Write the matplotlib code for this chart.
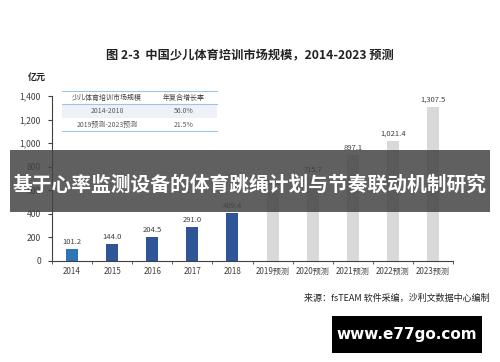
import matplotlib
matplotlib.use('Agg')
from matplotlib import pyplot as plt
from matplotlib.patches import Rectangle

plt.rcParams['font.family'] = ['Noto Sans CJK SC', 'DejaVu Sans']

# data
years = ['2014', '2015', '2016', '2017', '2018',
         '2019预测', '2020预测', '2021预测', '2022预测', '2023预测']
values = [101.2, 144.0, 204.5, 291.0, 409.4, 600.0, 715.7, 897.1, 1021.4, 1307.5]
bar_colors = ['#2e75b6', '#2f5597', '#2f5597', '#2f5597', '#2f5597',
              '#d9d9d9', '#d9d9d9', '#d9d9d9', '#d9d9d9', '#d9d9d9']
yticks = [0, 200, 400, 600, 800, 1000, 1200, 1400]

table_header = ['少儿体育培训市场规模', '年复合增长率']
table_rows = [['2014-2018', '56.0%'], ['2019预测-2023预测', '21.5%']]

W, H = 500, 362
fig = plt.figure(figsize=(5, 3.62), dpi=100)
fig.patch.set_facecolor('white')

# main chart
ax = fig.add_axes([52 / W, 1 - 261 / H, (453 - 52) / W, (261 - 96) / H])
x = list(range(len(years)))
ax.bar(x, values, width=0.3, color=bar_colors, zorder=2)
for xi, v in zip(x, values):
    ax.text(xi, v + 25, '{:,.1f}'.format(v), ha='center', va='bottom',
            fontsize=5.5, color='#404040')
ax.set_xlim(-0.5, len(years) - 0.5)
ax.set_ylim(0, 1400)
ax.set_yticks(yticks)
ax.set_yticklabels(['{:,}'.format(t) for t in yticks])
ax.set_xticks(x)
ax.set_xticklabels(years)
ax.set_xticks([i - 0.5 for i in range(len(years) + 1)], minor=True)
ax.tick_params(axis='x', which='major', length=0, labelsize=5.8,
               labelcolor='#404040', pad=4)
ax.tick_params(axis='x', which='minor', length=2.5, color='#404040')
ax.tick_params(axis='y', labelsize=6.2, labelcolor='#404040', length=3,
               color='#404040', pad=5)
for s in ['top', 'right']:
    ax.spines[s].set_visible(False)
ax.spines['left'].set_color('#404040')
ax.spines['bottom'].set_color('#404040')
ax.spines['left'].set_linewidth(0.8)
ax.spines['bottom'].set_linewidth(0.8)

# overlay in pixel coordinates
ov = fig.add_axes([0, 0, 1, 1], zorder=10)
ov.set_xlim(0, W)
ov.set_ylim(H, 0)
ov.axis('off')
ov.patch.set_alpha(0)

ov.text(250, 55, '图 2-3  中国少儿体育培训市场规模，2014-2023 预测',
        ha='center', va='center', fontsize=8.8, fontweight='bold', color='#222222')
ov.text(37, 77, '亿元', ha='center', va='center', fontsize=6.5,
        fontweight='bold', color='#222222')

# little table
ov.add_patch(Rectangle((62, 104), 155, 14, facecolor='#eef2f8', edgecolor='none'))
ov.plot([62, 217], [91, 91], color='#9dc3e6', lw=0.8)
ov.plot([62, 217], [104, 104], color='#9dc3e6', lw=0.8)
ov.plot([62, 217], [131, 131], color='#9dc3e6', lw=0.8)
col_x = [107, 184]
for cx, t in zip(col_x, table_header):
    ov.text(cx, 98, t, ha='center', va='center', fontsize=5, color='#404040')
for ry, row in zip([111, 125], table_rows):
    for cx, t in zip(col_x, row):
        ov.text(cx, ry, t, ha='center', va='center', fontsize=5, color='#595959')

ov.text(490, 298, '来源：fsTEAM 软件采编，沙利文数据中心编制', ha='right',
        va='center', fontsize=6.5, color='#222222', style='italic')

# banner
ov.add_patch(Rectangle((10, 150), 480, 62, facecolor='#444444', alpha=0.85,
                       edgecolor='none'))
ov.text(250, 185, '基于心率监测设备的体育跳绳计划与节奏联动机制研究',
        ha='center', va='center', fontsize=14.2, fontweight='bold', color='white')

# watermark
ov.add_patch(Rectangle((332, 316), 150, 37, facecolor='black', edgecolor='none'))
ov.text(407, 334.5, 'www.e77go.com', ha='center', va='center', fontsize=11,
        fontweight='bold', color='white', family='DejaVu Sans')

plt.savefig('out.png', dpi=100)
